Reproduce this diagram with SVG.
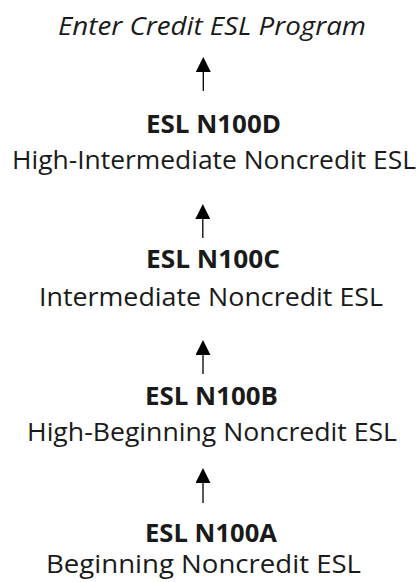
<svg xmlns="http://www.w3.org/2000/svg" width="419" height="582" viewBox="0 0 419 582">
<style>
  text { font-family: "Open Sans", "Noto Sans", sans-serif; font-size: 25.5px; fill: #1a1a1a; }
  .code { font-weight: bold; }
  .it { font-style: italic; }
  .conn line { stroke: #000; stroke-width: 1.3; fill: none; }
</style>
<defs>
  <marker id="ah" markerUnits="userSpaceOnUse" markerWidth="15" markerHeight="15" viewBox="0 0 15 15" refX="0" refY="7.5" orient="auto">
    <path d="M0,0 L15,7.5 L0,15 z" fill="#000"/>
  </marker>
</defs>
<rect width="419" height="582" fill="#fff"/>
<g id="enter">
  <text class="it" x="58" y="35" textLength="308" lengthAdjust="spacingAndGlyphs">Enter Credit ESL Program</text>
</g>
<g id="n100d">
  <text class="code" x="146" y="133" textLength="135" lengthAdjust="spacingAndGlyphs">ESL N100D</text>
  <text x="12" y="169" textLength="404" lengthAdjust="spacingAndGlyphs">High-Intermediate Noncredit ESL</text>
</g>
<g id="n100c">
  <text class="code" x="146" y="268" textLength="134" lengthAdjust="spacingAndGlyphs">ESL N100C</text>
  <text x="39" y="306" textLength="344" lengthAdjust="spacingAndGlyphs">Intermediate Noncredit ESL</text>
</g>
<g id="n100b">
  <text class="code" x="145" y="405" textLength="133" lengthAdjust="spacingAndGlyphs">ESL N100B</text>
  <text x="27" y="441" textLength="370" lengthAdjust="spacingAndGlyphs">High-Beginning Noncredit ESL</text>
</g>
<g id="n100a">
  <text class="code" x="145" y="542" textLength="132" lengthAdjust="spacingAndGlyphs">ESL N100A</text>
  <text x="46" y="573" textLength="315" lengthAdjust="spacingAndGlyphs">Beginning Noncredit ESL</text>
</g>
<g class="conn" id="connectors">
  <line x1="203.3" y1="91" x2="203.3" y2="72" marker-end="url(#ah)"/>
  <line x1="202.8" y1="238" x2="202.8" y2="219" marker-end="url(#ah)"/>
  <line x1="203" y1="374" x2="203" y2="355" marker-end="url(#ah)"/>
  <line x1="203" y1="503" x2="203" y2="483" marker-end="url(#ah)"/>
</g>
</svg>
